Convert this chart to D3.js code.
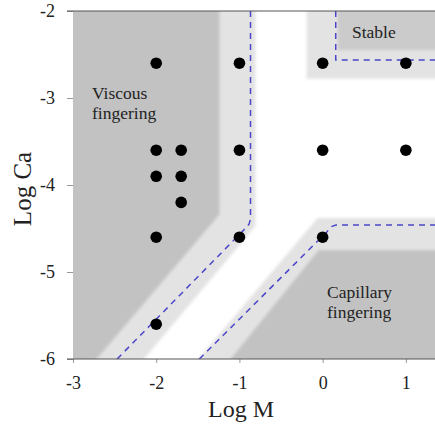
<!DOCTYPE html>
<html>
<head>
<meta charset="utf-8">
<script src="https://cdn.jsdelivr.net/npm/d3@7"></script>
<style>
  html, body { margin: 0; padding: 0; background: #fff; }
  svg { display: block; }
  text { font-family: "Liberation Serif", "DejaVu Serif", serif; fill: #222; }
</style>
</head>
<body>
<svg id="chart" width="435" height="425"></svg>
<script>
// Experiments: log viscosity ratio (M) vs log capillary number (Ca)
const logM  = [-2, -1, 0, 1, -2, -1.7, -1, 0, 1, -2, -1.7, -1.7, -2, -1, 0, -2];
const logCa = [-2.6, -2.6, -2.6, -2.6, -3.6, -3.6, -3.6, -3.6, -3.6, -3.9, -3.9, -4.2, -4.6, -4.6, -4.6, -5.6];

const xTicks = [-3, -2, -1, 0, 1];
const yTicks = [-2, -3, -4, -5, -6];
const X_MIN = -3, X_MAX = 1.35, Y_MIN = -6, Y_MAX = -2;

// Regime zones as [logM, logCa] vertices
const viscousBand = [[-3, -2], [-0.807, -2], [-0.807, -4.47], [-2.41, -6], [-3, -6]];
const viscousCore = [[-3, -2], [-1.24, -2], [-1.24, -4.34], [-2.98, -6], [-3, -6]];
const capillaryBand = [[-1.759, -6], [-0.06, -4.379], [X_MAX, -4.379], [X_MAX, -6]];
const capillaryCore = [[-1.36, -6], [-0.048, -4.747], [X_MAX, -4.747], [X_MAX, -6]];
const stableBand = [[-0.193, -2], [X_MAX, -2], [X_MAX, -2.78], [-0.193, -2.78]];
const stableCore = [[0.18, -2], [X_MAX, -2], [X_MAX, -2.45], [0.18, -2.45]];

// Regime boundaries
const viscousEdge = [[-0.867, -2], [-0.867, -4.39], [-0.885, -4.45], [-0.93, -4.5], [-2.47, -6]];
const capillaryEdge = [[-1.482, -6], [0.05, -4.54], [0.1, -4.48], [0.16, -4.46], [X_MAX, -4.46]];
const stableEdge = [[0.157, -2], [0.157, -2.563], [X_MAX, -2.563]];

const svg = d3.select("#chart");
const x = d3.scaleLinear().domain([X_MIN, X_MAX]).range([73, 435]);
const y = d3.scaleLinear().domain([Y_MIN, Y_MAX]).range([359, 11]);

const poly = d3.line().x(d => x(d[0])).y(d => y(d[1]));
const dark = "#c2c2c2", light = "#e3e3e3";

// soft shading: zones are pushed past the frame, blurred, then clipped to it
const defs = svg.append("defs");
defs.append("filter").attr("id", "soft").attr("x", "-5%").attr("y", "-5%")
  .attr("width", "110%").attr("height", "110%")
  .append("feGaussianBlur").attr("stdDeviation", 1.6);
defs.append("clipPath").attr("id", "plotArea").append("rect")
  .attr("x", x(X_MIN)).attr("y", y(Y_MAX))
  .attr("width", x(X_MAX) - x(X_MIN)).attr("height", y(Y_MIN) - y(Y_MAX));

const pad = 0.3;
const bleed = pts => pts.map(([m, c]) => [
  m === X_MIN ? m - pad : m === X_MAX ? m + pad : m,
  c === Y_MIN ? c - pad : c === Y_MAX ? c + pad : c
]);

const zones = svg.append("g").attr("clip-path", "url(#plotArea)")
  .append("g").attr("filter", "url(#soft)");
[[viscousBand, light], [viscousCore, dark],
 [capillaryBand, light], [capillaryCore, dark],
 [stableBand, light], [stableCore, "#cbcbcb"]].forEach(([pts, fill]) => {
  zones.append("path").attr("d", poly(bleed(pts)) + "Z").attr("fill", fill);
});

const edges = svg.append("g");
[viscousEdge, capillaryEdge, stableEdge].forEach(pts => {
  edges.append("path").attr("d", poly(pts))
    .attr("fill", "none").attr("stroke", "#4b47c8")
    .attr("stroke-width", 1.5).attr("stroke-dasharray", "6,5");
});

// Axes
const axisColor = "#555";
const fmt = d => String(d);
const xAxis = svg.append("g").attr("transform", `translate(0,${y(Y_MIN)})`)
  .call(d3.axisBottom(x).tickValues(xTicks).tickSize(4).tickPadding(13).tickFormat(fmt));
const yAxis = svg.append("g").attr("transform", `translate(${x(X_MIN)},0)`)
  .call(d3.axisLeft(y).tickValues(yTicks).tickSize(6).tickPadding(12).tickFormat(fmt));
[xAxis, yAxis].forEach(g => {
  g.select(".domain").remove();
  g.selectAll(".tick line").attr("stroke", "#999");
  g.selectAll(".tick text").style("font-family", '"Liberation Serif", serif')
    .style("font-size", "18px").attr("fill", "#222");
});
// frame lines along top and bottom
svg.append("line").attr("x1", 67).attr("x2", 435).attr("y1", y(Y_MAX)).attr("y2", y(Y_MAX))
  .attr("stroke", axisColor).attr("stroke-width", 1.2);
svg.append("line").attr("x1", 67).attr("x2", 435).attr("y1", y(Y_MIN)).attr("y2", y(Y_MIN))
  .attr("stroke", axisColor).attr("stroke-width", 1.2);

// Data points
svg.append("g").selectAll("circle").data(logM).join("circle")
  .attr("cx", d => x(d)).attr("cy", (d, i) => y(logCa[i])).attr("r", 5.8).attr("fill", "#000");

// Zone labels
function label(lines, px, py) {
  const t = svg.append("text").attr("x", px).attr("y", py)
    .style("font-family", '"Liberation Serif", serif').style("font-size", "17.5px");
  lines.forEach((s, i) => t.append("tspan").attr("x", px).attr("dy", i ? 20 : 0).text(s));
}
label(["Viscous", "fingering"], 92, 99);
label(["Stable"], 352, 38);
label(["Capillary", "fingering"], 327, 298);

// Axis titles
svg.append("text").attr("x", 241).attr("y", 417).attr("text-anchor", "middle")
  .style("font-family", '"Liberation Serif", serif').style("font-size", "24px").text("Log M");
svg.append("text").attr("transform", "translate(31,189) rotate(-90)").attr("text-anchor", "middle")
  .style("font-family", '"Liberation Serif", serif').style("font-size", "25px").text("Log Ca");
</script>
</body>
</html>
